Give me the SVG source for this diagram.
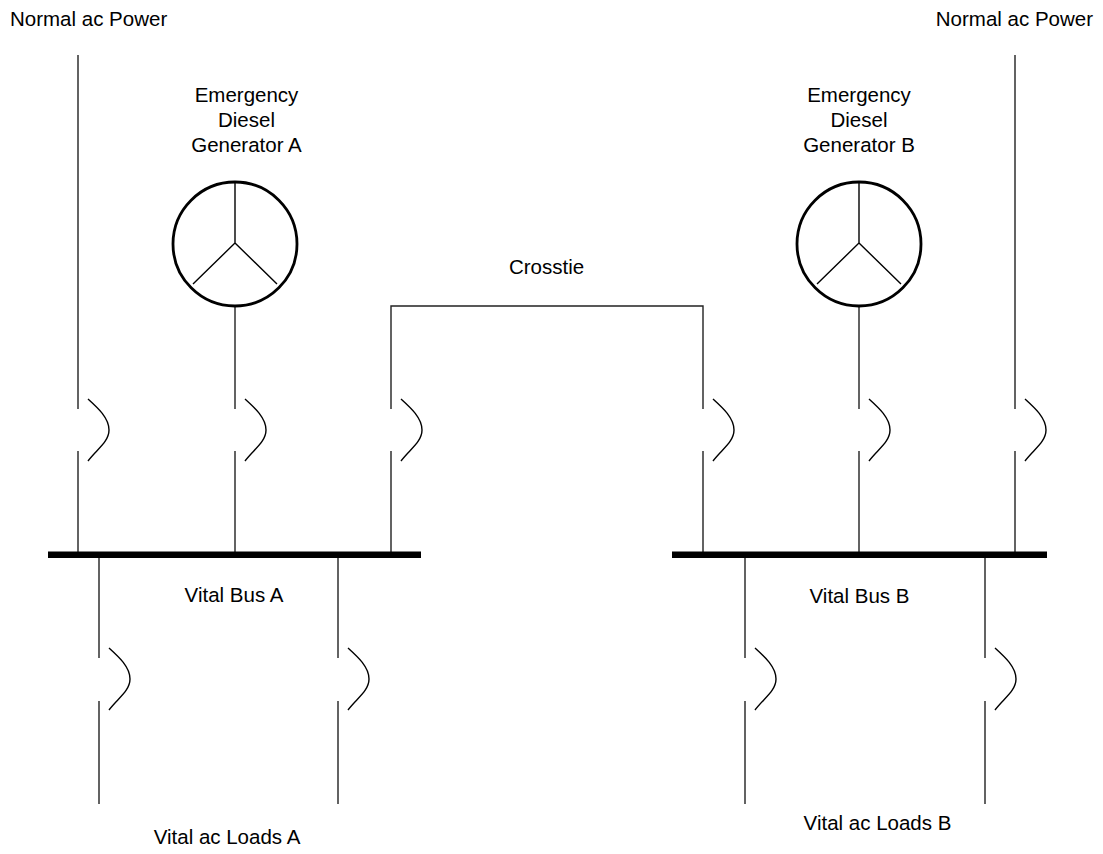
<svg xmlns="http://www.w3.org/2000/svg" width="1103" height="854" viewBox="0 0 1103 854">
<style>
text{font-family:"Liberation Sans",Arial,sans-serif;font-size:20.5px;fill:#000}
.w{stroke:#222;stroke-width:1.4;fill:none}
.brk{stroke:#000;stroke-width:1.4;fill:none}
.bus{fill:#000}
.gen{stroke:#000;stroke-width:2.8;fill:#fff}
.wye{stroke:#000;stroke-width:1.4;fill:none}
</style>
<defs>
<path id="arc" class="brk" d="M10,-10 C20,-1 31,9 31,21 C31,33 18,41 10,52"/>
</defs>
<rect width="1103" height="854" fill="#fff"/>
<g id="connectors">
<path class="w" d="M78,55 V409 M78,451 V552"/>
<path class="w" d="M235,306 V409 M235,451 V552"/>
<path class="w" d="M391,409 V306 H703 V409 M391,451 V552 M703,451 V552"/>
<path class="w" d="M859,306 V409 M859,451 V552"/>
<path class="w" d="M1015,55 V409 M1015,451 V552"/>
<path class="w" d="M99,558 V658 M99,701 V804 M338,558 V658 M338,701 V804"/>
<path class="w" d="M745,558 V658 M745,701 V804 M985,558 V658 M985,701 V804"/>
</g>
<g id="breakers">
<use href="#arc" x="78" y="409"/>
<use href="#arc" x="235" y="409"/>
<use href="#arc" x="391" y="409"/>
<use href="#arc" x="703" y="409"/>
<use href="#arc" x="859" y="409"/>
<use href="#arc" x="1015" y="409"/>
<use href="#arc" x="99" y="658"/>
<use href="#arc" x="338" y="658"/>
<use href="#arc" x="745" y="658"/>
<use href="#arc" x="985" y="658"/>
</g>
<g id="busA">
<rect class="bus" x="48" y="551.5" width="373" height="6.5"/>
<text x="234" y="602" text-anchor="middle">Vital Bus A</text>
</g>
<g id="busB">
<rect class="bus" x="672" y="551.5" width="375" height="6.5"/>
<text x="859.5" y="603" text-anchor="middle">Vital Bus B</text>
</g>
<g id="genA">
<circle class="gen" cx="235" cy="244" r="62"/>
<path class="wye" d="M235,182 V243 L193,284 M235,243 L277,284"/>
<text x="246.5" y="102" text-anchor="middle">Emergency</text>
<text x="246.5" y="127" text-anchor="middle">Diesel</text>
<text x="246.5" y="152" text-anchor="middle">Generator A</text>
</g>
<g id="genB">
<circle class="gen" cx="859" cy="244" r="62"/>
<path class="wye" d="M859,182 V243 L817,284 M859,243 L901,284"/>
<text x="859" y="102" text-anchor="middle">Emergency</text>
<text x="859" y="127" text-anchor="middle">Diesel</text>
<text x="859" y="152" text-anchor="middle">Generator B</text>
</g>
<g id="normalA">
<text x="10" y="26">Normal ac Power</text>
</g>
<g id="normalB">
<text x="1093" y="26" text-anchor="end">Normal ac Power</text>
</g>
<g id="crosstie">
<text x="546.5" y="274" text-anchor="middle">Crosstie</text>
</g>
<g id="loadsA">
<text x="227" y="844" text-anchor="middle">Vital ac Loads A</text>
</g>
<g id="loadsB">
<text x="877.5" y="830" text-anchor="middle">Vital ac Loads B</text>
</g>
</svg>
